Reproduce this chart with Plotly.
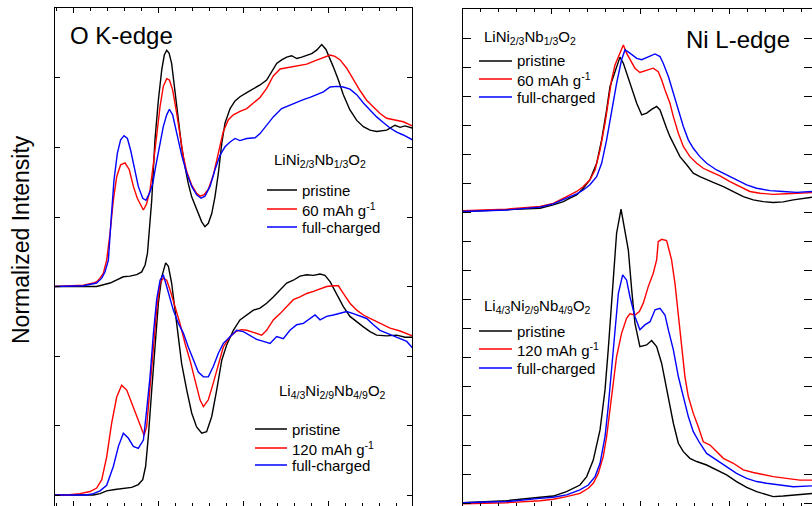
import plotly.graph_objects as go

W, H = 812, 506

# ---------------- O K-edge data (energy eV, normalized intensity) ----------------
# LiNi2/3Nb1/3O2 (plotted with +3 offset)
ok_a_pristine = [(523.94, 0.00), (526.39, 0.00), (527.18, 0.05), (527.96, 0.14), (528.35, 0.15), (528.75, 0.17),
                 (529.04, 0.21), (529.24, 0.31), (529.38, 0.48), (529.63, 1.24), (529.82, 2.11), (530.02, 2.68),
                 (530.22, 3.12), (530.37, 3.33), (530.51, 3.40), (530.65, 3.36), (530.80, 3.21), (531.00, 2.83),
                 (531.20, 2.40), (531.39, 2.01), (531.59, 1.72), (531.78, 1.48), (531.98, 1.29), (532.27, 1.10),
                 (532.57, 0.93), (532.76, 0.86), (532.96, 0.91), (533.16, 1.05), (533.35, 1.29), (533.55, 1.63),
                 (533.75, 2.06), (533.94, 2.35), (534.24, 2.56), (534.53, 2.67), (534.82, 2.73), (535.22, 2.79),
                 (535.61, 2.84), (536.00, 2.90), (536.39, 2.97), (536.69, 3.09), (536.98, 3.21), (537.27, 3.26),
                 (537.57, 3.30), (537.86, 3.32), (538.16, 3.28), (538.45, 3.30), (538.75, 3.32), (539.04, 3.35),
                 (539.33, 3.40), (539.63, 3.48), (539.88, 3.41), (540.12, 3.28), (540.31, 3.16), (540.61, 2.97),
                 (540.90, 2.76), (541.29, 2.54), (541.69, 2.39), (542.08, 2.30), (542.47, 2.25), (542.86, 2.23),
                 (543.45, 2.25), (543.94, 2.32), (544.24, 2.29), (544.53, 2.31), (544.96, 2.28)]
ok_a_60 = [(523.94, 0.00), (525.61, 0.02), (526.20, 0.05), (526.39, 0.07), (526.59, 0.12), (526.78, 0.19),
           (526.98, 0.38), (527.18, 0.77), (527.37, 1.24), (527.57, 1.58), (527.80, 1.75), (528.06, 1.78),
           (528.31, 1.68), (528.55, 1.44), (528.78, 1.27), (528.98, 1.17), (529.14, 1.10), (529.33, 1.19),
           (529.53, 1.39), (529.73, 1.77), (529.92, 2.20), (530.12, 2.59), (530.31, 2.88), (530.51, 2.99),
           (530.67, 2.97), (530.86, 2.83), (531.10, 2.49), (531.29, 2.16), (531.49, 1.87), (531.69, 1.65),
           (531.98, 1.46), (532.27, 1.34), (532.47, 1.30), (532.71, 1.32), (532.96, 1.40), (533.25, 1.60),
           (533.55, 1.92), (533.84, 2.23), (534.14, 2.40), (534.43, 2.47), (534.82, 2.52), (535.22, 2.56),
           (535.61, 2.64), (536.00, 2.72), (536.39, 2.85), (536.78, 3.03), (537.18, 3.13), (537.57, 3.15),
           (537.96, 3.17), (538.35, 3.19), (538.75, 3.20), (539.14, 3.24), (539.53, 3.28), (539.82, 3.31),
           (540.12, 3.33), (540.41, 3.31), (540.71, 3.26), (541.10, 3.14), (541.49, 2.97), (541.88, 2.82),
           (542.27, 2.68), (542.67, 2.58), (543.06, 2.49), (543.45, 2.42), (543.94, 2.40), (544.43, 2.37),
           (544.96, 2.31)]
ok_a_full = [(523.94, 0.00), (525.61, 0.01), (526.39, 0.05), (526.69, 0.12), (526.88, 0.21), (527.08, 0.38),
             (527.24, 0.96), (527.41, 1.53), (527.61, 1.92), (527.80, 2.11), (528.00, 2.17), (528.20, 2.13),
             (528.39, 1.96), (528.59, 1.72), (528.84, 1.44), (529.10, 1.27), (529.29, 1.24), (529.49, 1.34),
             (529.69, 1.48), (529.88, 1.75), (530.08, 2.01), (530.31, 2.30), (530.51, 2.47), (530.67, 2.55),
             (530.86, 2.47), (531.10, 2.20), (531.39, 1.89), (531.69, 1.63), (531.98, 1.44), (532.27, 1.32),
             (532.53, 1.27), (532.76, 1.30), (533.06, 1.44), (533.35, 1.68), (533.65, 1.89), (533.94, 2.01),
             (534.24, 2.08), (534.53, 2.13), (534.82, 2.10), (535.22, 2.13), (535.71, 2.14), (536.00, 2.20),
             (536.39, 2.32), (536.78, 2.44), (537.27, 2.56), (537.76, 2.61), (538.16, 2.66), (538.55, 2.69),
             (538.94, 2.72), (539.33, 2.76), (539.73, 2.80), (540.12, 2.87), (540.51, 2.88), (540.90, 2.87),
             (541.29, 2.84), (541.69, 2.76), (542.08, 2.64), (542.47, 2.54), (542.86, 2.44), (543.25, 2.36),
             (543.65, 2.28), (544.04, 2.22), (544.43, 2.18), (544.96, 2.11)]

# Li4/3Ni2/9Nb4/9O2 (no offset)
ok_b_pristine = [(523.94, 0.00), (526.20, 0.00), (526.59, 0.02), (526.98, 0.06), (527.47, 0.08), (527.96, 0.09),
                 (528.45, 0.11), (528.84, 0.15), (529.10, 0.22), (529.27, 0.41), (529.43, 0.84), (529.63, 1.51),
                 (529.82, 2.18), (530.02, 2.76), (530.22, 3.14), (530.45, 3.34), (530.61, 3.29), (530.80, 3.05),
                 (531.00, 2.66), (531.20, 2.28), (531.39, 1.89), (531.69, 1.51), (531.98, 1.18), (532.27, 0.98),
                 (532.57, 0.89), (532.86, 0.91), (533.16, 1.13), (533.45, 1.51), (533.75, 1.94), (534.04, 2.16),
                 (534.43, 2.37), (534.82, 2.52), (535.22, 2.59), (535.61, 2.66), (536.00, 2.69), (536.39, 2.76),
                 (536.78, 2.85), (537.18, 2.95), (537.57, 3.05), (537.96, 3.09), (538.35, 3.15), (538.75, 3.17),
                 (539.14, 3.16), (539.53, 3.18), (539.82, 3.16), (540.12, 3.07), (540.51, 2.90), (540.90, 2.71),
                 (541.29, 2.57), (541.69, 2.49), (542.08, 2.42), (542.47, 2.35), (542.86, 2.30), (543.45, 2.29),
                 (544.04, 2.30), (544.53, 2.27), (544.96, 2.27)]
ok_b_120 = [(523.94, 0.00), (524.63, 0.00), (525.41, 0.02), (526.00, 0.05), (526.39, 0.10), (526.69, 0.22),
            (526.98, 0.55), (527.27, 1.03), (527.57, 1.41), (527.86, 1.58), (528.16, 1.51), (528.45, 1.32),
            (528.75, 1.13), (529.04, 0.94), (529.18, 0.86), (529.33, 0.98), (529.53, 1.51), (529.73, 2.09),
            (529.92, 2.66), (530.12, 3.05), (530.31, 3.12), (530.51, 3.09), (530.71, 2.95), (531.00, 2.71),
            (531.29, 2.47), (531.59, 2.18), (531.88, 1.94), (532.18, 1.65), (532.47, 1.37), (532.67, 1.27),
            (532.96, 1.37), (533.25, 1.61), (533.55, 1.89), (533.84, 2.13), (534.24, 2.28), (534.63, 2.36),
            (534.92, 2.38), (535.22, 2.37), (535.61, 2.34), (536.10, 2.30), (536.39, 2.37), (536.78, 2.52),
            (537.18, 2.61), (537.57, 2.71), (537.96, 2.81), (538.35, 2.85), (538.75, 2.90), (539.14, 2.93),
            (539.53, 2.97), (539.92, 3.00), (540.31, 3.01), (540.61, 3.01), (540.90, 2.90), (541.29, 2.76),
            (541.69, 2.66), (542.08, 2.59), (542.47, 2.54), (542.86, 2.49), (543.25, 2.45), (543.65, 2.40),
            (544.24, 2.36), (544.96, 2.29)]
ok_b_full = [(523.94, 0.00), (525.80, 0.00), (526.20, 0.02), (526.59, 0.06), (526.98, 0.14), (527.37, 0.41),
             (527.67, 0.70), (527.96, 0.89), (528.25, 0.82), (528.55, 0.70), (528.84, 0.67), (529.14, 0.79),
             (529.33, 1.22), (529.53, 1.70), (529.73, 2.33), (529.92, 2.81), (530.12, 3.09), (530.31, 3.17),
             (530.51, 3.00), (530.71, 2.81), (530.90, 2.66), (531.20, 2.47), (531.49, 2.33), (531.78, 2.13),
             (532.08, 1.94), (532.37, 1.77), (532.67, 1.70), (532.96, 1.70), (533.25, 1.85), (533.55, 2.04),
             (533.84, 2.18), (534.24, 2.28), (534.63, 2.37), (535.02, 2.35), (535.41, 2.30), (535.80, 2.24),
             (536.20, 2.21), (536.59, 2.18), (536.98, 2.28), (537.37, 2.25), (537.76, 2.37), (538.16, 2.45),
             (538.55, 2.47), (538.94, 2.54), (539.24, 2.59), (539.53, 2.52), (539.92, 2.57), (540.31, 2.59),
             (540.71, 2.61), (541.10, 2.64), (541.49, 2.61), (541.88, 2.57), (542.27, 2.54), (542.67, 2.45),
             (543.06, 2.37), (543.45, 2.33), (543.84, 2.29), (544.24, 2.25), (544.63, 2.21), (544.96, 2.12)]

# ---------------- Ni L-edge data ----------------
# LiNi2/3Nb1/3O2 (plotted with +10 offset)
ni_a_pristine = [(844.98, 0.05), (847.45, 0.10), (849.33, 0.16), (850.07, 0.28), (850.64, 0.39), (851.01, 0.51),
                 (851.39, 0.62), (851.76, 0.85), (852.13, 1.14), (852.51, 1.71), (852.79, 2.52), (853.07, 3.55),
                 (853.26, 4.36), (853.45, 4.70), (853.63, 5.05), (853.82, 5.37), (854.01, 5.16), (854.19, 4.82),
                 (854.38, 4.47), (854.57, 4.13), (854.76, 3.78), (855.04, 3.38), (855.32, 3.44), (855.60, 3.57),
                 (855.88, 3.67), (856.07, 3.55), (856.25, 3.21), (856.44, 2.92), (856.63, 2.63), (856.82, 2.40),
                 (857.00, 2.17), (857.19, 1.94), (857.57, 1.66), (857.94, 1.37), (858.31, 1.25), (858.69, 1.14),
                 (859.06, 1.05), (859.63, 0.91), (860.19, 0.74), (860.75, 0.56), (861.31, 0.45), (861.87, 0.39),
                 (862.43, 0.36), (862.99, 0.38), (863.56, 0.45), (864.12, 0.51), (864.61, 0.54)]
ni_a_60 = [(844.98, 0.08), (847.45, 0.13), (849.33, 0.22), (850.07, 0.33), (850.82, 0.56), (851.39, 0.74),
           (851.76, 0.91), (852.13, 1.14), (852.42, 1.48), (852.70, 2.17), (852.98, 3.09), (853.16, 3.90),
           (853.35, 4.59), (853.54, 5.10), (853.82, 5.51), (854.01, 5.79), (854.19, 5.51), (854.38, 5.28),
           (854.66, 4.99), (854.94, 4.84), (855.32, 4.91), (855.69, 4.99), (855.97, 4.87), (856.16, 4.59),
           (856.35, 4.24), (856.63, 3.78), (856.82, 3.32), (857.10, 2.75), (857.38, 2.29), (857.75, 1.94),
           (858.13, 1.71), (858.50, 1.54), (858.88, 1.43), (859.44, 1.28), (860.00, 1.08), (860.56, 0.91),
           (861.12, 0.74), (861.69, 0.68), (862.43, 0.64), (863.18, 0.66), (863.93, 0.68), (864.61, 0.70)]
ni_a_full = [(844.98, 0.05), (847.45, 0.10), (849.33, 0.20), (850.07, 0.31), (850.82, 0.51), (851.39, 0.66),
             (851.76, 0.79), (852.13, 0.97), (852.51, 1.25), (852.79, 1.71), (853.07, 2.52), (853.35, 3.55),
             (853.63, 4.47), (853.91, 5.28), (854.10, 5.62), (854.38, 5.51), (854.76, 5.33), (855.04, 5.28),
             (855.41, 5.39), (855.79, 5.48), (856.07, 5.39), (856.25, 5.16), (856.54, 4.70), (856.82, 4.13),
             (857.10, 3.55), (857.38, 2.98), (857.66, 2.52), (857.94, 2.23), (858.31, 1.94), (858.69, 1.71),
             (859.25, 1.48), (859.81, 1.31), (860.37, 1.14), (860.94, 0.97), (861.50, 0.85), (862.25, 0.77),
             (862.99, 0.74), (863.75, 0.71), (864.61, 0.74)]

# Li4/3Ni2/9Nb4/9O2 (no offset)
ni_b_pristine = [(844.98, 0.01), (847.45, 0.08), (849.33, 0.20), (850.07, 0.24), (850.82, 0.39), (851.20, 0.51),
                 (851.57, 0.62), (851.95, 0.91), (852.32, 1.48), (852.70, 2.52), (852.98, 3.90), (853.16, 5.28),
                 (853.35, 7.00), (853.54, 8.61), (853.63, 9.30), (853.88, 10.13), (854.10, 9.41), (854.29, 8.72),
                 (854.48, 7.34), (854.66, 6.20), (854.94, 5.39), (855.32, 5.45), (855.60, 5.60), (855.88, 5.39),
                 (856.16, 4.82), (856.35, 4.24), (856.54, 3.55), (856.82, 2.75), (857.10, 2.06), (857.38, 1.77),
                 (857.75, 1.54), (858.13, 1.43), (858.69, 1.31), (859.25, 1.14), (859.81, 0.97), (860.37, 0.74),
                 (860.94, 0.54), (861.50, 0.39), (862.06, 0.28), (862.43, 0.22), (862.99, 0.24), (863.56, 0.28),
                 (864.12, 0.31), (864.61, 0.33)]
ni_b_120 = [(844.98, -0.03), (847.45, 0.01), (849.33, 0.08), (850.07, 0.13), (850.82, 0.22), (851.57, 0.33),
            (852.04, 0.51), (852.32, 0.68), (852.60, 1.02), (852.88, 1.60), (853.07, 2.29), (853.26, 3.21),
            (853.45, 4.13), (853.63, 5.05), (853.91, 5.85), (854.19, 6.37), (854.38, 6.52), (854.66, 6.48),
            (854.91, 6.60), (855.13, 6.89), (855.41, 7.46), (855.69, 7.92), (855.88, 8.38), (855.97, 9.01),
            (856.16, 9.09), (856.44, 9.05), (856.63, 8.60), (856.72, 8.38), (856.91, 7.57), (857.10, 6.43),
            (857.28, 5.28), (857.47, 4.36), (857.66, 3.67), (857.94, 3.09), (858.22, 2.63), (858.50, 2.11),
            (858.88, 2.00), (859.25, 1.77), (859.63, 1.54), (860.19, 1.37), (860.75, 1.14), (861.31, 1.05),
            (861.87, 0.97), (862.43, 0.91), (863.18, 0.85), (863.93, 0.79), (864.61, 0.79)]
ni_b_full = [(844.98, 0.01), (847.45, 0.05), (849.33, 0.16), (850.07, 0.20), (850.82, 0.28), (851.57, 0.45),
             (852.04, 0.62), (852.42, 0.91), (852.70, 1.37), (852.98, 2.29), (853.16, 3.32), (853.35, 4.70),
             (853.54, 6.08), (853.73, 7.23), (853.97, 7.86), (854.19, 7.69), (854.38, 7.11), (854.66, 6.43),
             (854.94, 5.97), (855.22, 6.14), (855.51, 6.25), (855.79, 6.66), (856.07, 6.71), (856.35, 6.48),
             (856.54, 5.97), (856.82, 5.28), (857.10, 4.36), (857.38, 3.67), (857.66, 2.98), (857.94, 2.46),
             (858.31, 2.06), (858.69, 1.71), (859.25, 1.48), (859.81, 1.25), (860.37, 1.02), (860.94, 0.85),
             (861.50, 0.74), (862.06, 0.68), (862.81, 0.62), (863.56, 0.56), (864.61, 0.59)]

OK_OFFSET = 3
NI_OFFSET = 10

series_labels_a = ["pristine", "60 mAh g<sup>-1</sup>", "full-charged"]
series_labels_b = ["pristine", "120 mAh g<sup>-1</sup>", "full-charged"]
colors = ["#000000", "#ff0000", "#0000ff"]
formula_a = "LiNi<sub>2/3</sub>Nb<sub>1/3</sub>O<sub>2</sub>"
formula_b = "Li<sub>4/3</sub>Ni<sub>2/9</sub>Nb<sub>4/9</sub>O<sub>2</sub>"

FONT = "Arial, Liberation Sans, Helvetica, sans-serif"

fig = go.Figure()


def add(data, offset, color, xa, ya):
    fig.add_trace(go.Scatter(
        x=[p[0] for p in data], y=[p[1] + offset for p in data],
        mode="lines", line=dict(color=color, width=1.4),
        xaxis=xa, yaxis=ya, showlegend=False, hoverinfo="skip"))


for d, c in zip([ok_b_pristine, ok_b_120, ok_b_full], colors):
    add(d, 0, c, "x", "y")
for d, c in zip([ok_a_pristine, ok_a_60, ok_a_full], colors):
    add(d, OK_OFFSET, c, "x", "y")
for d, c in zip([ni_b_pristine, ni_b_120, ni_b_full], colors):
    add(d, 0, c, "x2", "y2")
for d, c in zip([ni_a_pristine, ni_a_60, ni_a_full], colors):
    add(d, NI_OFFSET, c, "x2", "y2")

axis_common = dict(showline=True, linecolor="#000000", linewidth=1, mirror="allticks",
                   ticks="inside", tickcolor="#000000", showticklabels=False,
                   showgrid=False, zeroline=False)

fig.update_layout(
    width=W, height=H, margin=dict(l=0, r=0, t=0, b=0),
    paper_bgcolor="white", plot_bgcolor="white",
    font=dict(family=FONT, color="#000000"),
    xaxis=dict(domain=[55 / W, 412 / W], range=[523.94, 544.94], tick0=525, dtick=5, ticklen=5,
               minor=dict(dtick=1, ticks="inside", ticklen=3, tickcolor="#000000", showgrid=False),
               **axis_common),
    yaxis=dict(domain=[0, 1 - 8 / H], range=[-0.158, 7.007], tick0=0, dtick=1, ticklen=5, **axis_common),
    xaxis2=dict(domain=[463 / W, 1], range=[845.0, 864.61], tick0=850, dtick=5, ticklen=5,
                minor=dict(dtick=1, ticks="inside", ticklen=3, tickcolor="#000000", showgrid=False),
                anchor="y2", **axis_common),
    yaxis2=dict(domain=[0, 1 - 9 / H], range=[-0.103, 17.03], tick0=0, dtick=1, ticklen=8,
                anchor="x2", **axis_common),
)


def px(x):
    return x / W


def py(y):
    return 1 - y / H


ann = []
ann.append(dict(text="O K-edge", x=px(68), y=py(35), xanchor="left", yanchor="middle", font=dict(size=24)))
ann.append(dict(text="Ni L-edge", x=px(684), y=py(40), xanchor="left", yanchor="middle", font=dict(size=24)))
ann.append(dict(text="Normalized Intensity", x=px(21), y=py(240), xanchor="center", yanchor="middle",
                textangle=-90, font=dict(size=23)))

# legend blocks: (title, labels, title_x, title_y, line_x0, line_x1, text_x, item_ys)
blocks = [
    (formula_a, series_labels_a, 272, 161, 267, 297, 300, [190, 209, 227]),
    (formula_b, series_labels_b, 277, 391, 255, 287, 290, [429, 448, 465]),
    (formula_a, series_labels_a, 482, 37, 479, 512, 515, [61, 79, 97]),
    (formula_b, series_labels_b, 482, 306, 479, 512, 515, [331, 349, 368]),
]
shapes = []
for title, labels, tx, ty, lx0, lx1, txx, ys in blocks:
    ann.append(dict(text=title, x=px(tx), y=py(ty), xanchor="left", yanchor="middle", font=dict(size=15)))
    for lab, c, yy in zip(labels, colors, ys):
        ann.append(dict(text=lab, x=px(txx), y=py(yy), xanchor="left", yanchor="middle", font=dict(size=15)))
        shapes.append(dict(type="line", xref="paper", yref="paper", x0=px(lx0), x1=px(lx1),
                           y0=py(yy), y1=py(yy), line=dict(color=c, width=1.5)))

for a in ann:
    a.update(xref="paper", yref="paper", showarrow=False)
fig.update_layout(annotations=ann, shapes=shapes)

fig.write_html("out.html", config={"displayModeBar": False},
               post_script="document.body.style.margin='0';document.body.style.padding='0';"
                           "document.documentElement.style.overflow='hidden';")
